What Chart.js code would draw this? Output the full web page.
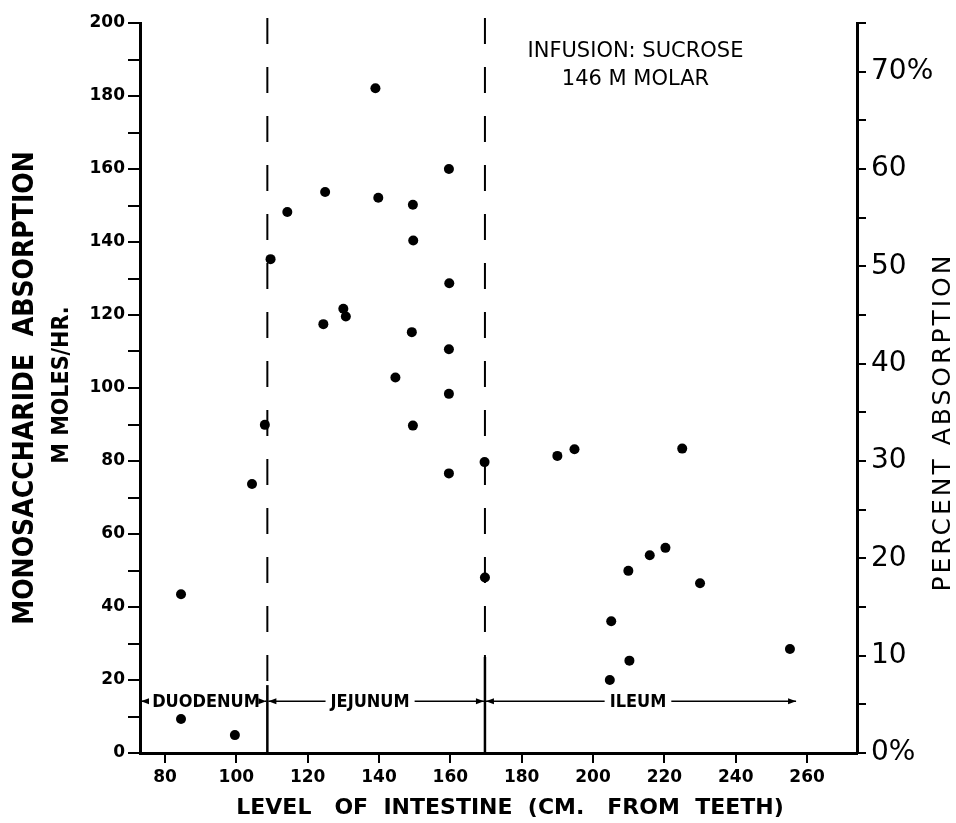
<!DOCTYPE html>
<html>
<head>
<meta charset="utf-8">
<script src="https://cdn.jsdelivr.net/npm/chart.js@4.4.1/dist/chart.umd.min.js"></script>
<style>
  html, body { margin: 0; padding: 0; background: #fff; }
  #wrap { width: 956px; height: 823px; }
</style>
</head>
<body>
<div id="wrap"><canvas id="chart" width="956" height="823"></canvas></div>
<script>
// level of intestine (cm. from teeth) and monosaccharide absorption (m moles/hr.)
const levels = [84.5, 84.5, 99.6, 104.4, 108.0, 109.6, 114.3, 124.9, 124.4, 130.0, 130.7, 139.0,
                139.8, 149.5, 149.6, 159.6, 159.7, 149.2, 159.6, 144.6, 159.6, 149.5, 169.6, 159.6,
                169.7, 190.0, 194.8, 225.0, 209.9, 215.9, 220.3, 230.0, 205.1, 210.2, 204.7, 255.2]
const absorption = [43.5, 9.3, 4.9, 73.7, 89.9, 135.3, 148.2, 153.7, 117.5, 121.7, 119.6, 182.1,
                    152.1, 150.2, 140.4, 160.0, 128.7, 115.3, 110.6, 102.9, 98.4, 89.7, 79.7, 76.6,
                    48.1, 81.4, 83.2, 83.4, 49.9, 54.2, 56.2, 46.5, 36.1, 25.3, 20.0, 28.5]

const xTicks = [80, 100, 120, 140, 160, 180, 200, 220, 240, 260]
const leftTicks = [0, 10, 20, 30, 40, 50, 60, 70, 80, 90, 100, 110, 120, 130, 140, 150, 160, 170, 180, 190, 200]
const rightTicks = [0, 5, 10, 15, 20, 25, 30, 35, 40, 45, 50, 55, 60, 65, 70, 75]

// intestine segments
const segments = ["DUODENUM", "JEJUNUM", "ILEUM"]
const segmentFrom = [73, 108.7, 169.7]
const segmentTo = [108.7, 169.7, 257.2]
const segmentCenter = [91.5, 137.5, 212.6]
const arrowLevel = 14.2
const boundaries = [108.7, 169.7]
const solidFrom = [18.6, 26.3]

const noteLines = ["INFUSION: SUCROSE", "146 M MOLAR"]
const noteX = 211.9
const noteY = [192.3, 184.4]

const sans = '"DejaVu Sans", sans-serif'
const condensed = '"DejaVu Sans Condensed", "DejaVu Sans", sans-serif'

function arrowHead(ctx, x, y, dir) {
    ctx.beginPath()
    ctx.moveTo(x, y)
    ctx.lineTo(x - dir * 8, y - 3)
    ctx.lineTo(x - dir * 8, y + 3)
    ctx.closePath()
    ctx.fill()
}

const annotations = {
    id: "annotations",
    afterDatasetsDraw(chart) {
        const { ctx, chartArea, scales: { x, y } } = chart
        ctx.save()
        ctx.strokeStyle = "#000"
        ctx.fillStyle = "#000"

        // dashed segment boundaries, solid near the bottom
        boundaries.forEach((b, i) => {
            const px = x.getPixelForValue(b)
            const ySolid = y.getPixelForValue(solidFrom[i])
            ctx.lineWidth = 2
            ctx.setLineDash([26, 23])
            ctx.beginPath()
            ctx.moveTo(px, chartArea.top - 5)
            ctx.lineTo(px, ySolid)
            ctx.stroke()
            ctx.setLineDash([])
            ctx.lineWidth = 2.5
            ctx.beginPath()
            ctx.moveTo(px, ySolid)
            ctx.lineTo(px, chartArea.bottom)
            ctx.stroke()
        })

        // segment names with arrows
        ctx.font = "bold 18px " + condensed
        ctx.textAlign = "center"
        ctx.textBaseline = "middle"
        const ay = y.getPixelForValue(arrowLevel)
        segments.forEach((name, i) => {
            const x0 = x.getPixelForValue(segmentFrom[i]) + 1
            const x1 = x.getPixelForValue(segmentTo[i]) - 1
            const cx = x.getPixelForValue(segmentCenter[i])
            const w = ctx.measureText(name).width
            ctx.fillText(name, cx, ay + 1)
            ctx.lineWidth = 1.5
            ctx.beginPath()
            ctx.moveTo(x0, ay)
            ctx.lineTo(cx - w / 2 - 5, ay)
            ctx.moveTo(cx + w / 2 + 5, ay)
            ctx.lineTo(x1, ay)
            ctx.stroke()
            arrowHead(ctx, x0, ay, -1)
            arrowHead(ctx, x1, ay, 1)
        })

        // infusion note
        ctx.font = "21px " + sans
        noteLines.forEach((line, i) => {
            ctx.fillText(line, x.getPixelForValue(noteX), y.getPixelForValue(noteY[i]))
        })

        const midY = (chartArea.top + chartArea.bottom) / 2

        // second line of the left title
        ctx.save()
        ctx.translate(chartArea.left - 78, midY - 3)
        ctx.rotate(-Math.PI / 2)
        ctx.font = "bold 23px " + condensed
        ctx.fillText("M MOLES/HR.", 0, 0)
        ctx.restore()

        // right title, reads bottom to top
        ctx.save()
        ctx.translate(chartArea.right + 86, midY + 34)
        ctx.rotate(-Math.PI / 2)
        ctx.font = "25px " + sans
        ctx.letterSpacing = "3px"
        ctx.fillText("PERCENT ABSORPTION", 0, 0)
        ctx.restore()

        ctx.restore()
    },
}

const axisBase = {
    border: { display: true, color: "#000", width: 3 },
    grid: { display: true, drawOnChartArea: false, drawTicks: true, color: "#000", lineWidth: 2 },
}

new Chart(document.getElementById("chart"), {
    type: "scatter",
    data: {
        datasets: [
            {
                data: levels.map((v, i) => ({ x: v, y: absorption[i] })),
                yAxisID: "y",
                pointRadius: 5,
                pointHoverRadius: 5,
                backgroundColor: "#000",
                borderWidth: 0,
            },
        ],
    },
    options: {
        responsive: false,
        animation: false,
        devicePixelRatio: 1,
        layout: { padding: { left: 0, right: 0, top: 23, bottom: 2 } },
        plugins: { legend: { display: false }, tooltip: { enabled: false } },
        scales: {
            x: {
                ...axisBase,
                type: "linear",
                min: 73,
                max: 274,
                grid: { ...axisBase.grid, tickLength: 10 },
                afterBuildTicks: (s) => {
                    s.ticks = xTicks.map((v) => ({ value: v }))
                },
                afterFit: (s) => {
                    s.height = 68
                },
                ticks: {
                    autoSkip: false,
                    maxRotation: 0,
                    padding: 4,
                    color: "#000",
                    font: { family: sans, weight: "bold", size: 17 },
                },
                title: {
                    display: true,
                    text: "   LEVEL   OF  INTESTINE  (CM.   FROM  TEETH)",
                    color: "#000",
                    font: { family: sans, weight: "bold", size: 22 },
                    padding: { top: 0, bottom: 0 },
                },
            },
            y: {
                ...axisBase,
                position: "left",
                min: 0,
                max: 200,
                grid: { ...axisBase.grid, tickLength: 12 },
                afterBuildTicks: (s) => {
                    s.ticks = leftTicks.map((v) => ({ value: v }))
                },
                afterFit: (s) => {
                    s.width = 140
                },
                ticks: {
                    autoSkip: false,
                    padding: 3,
                    color: "#000",
                    font: { family: sans, weight: "bold", size: 17 },
                    callback: (v) => (v % 20 === 0 ? String(v) : ""),
                },
                title: {
                    display: true,
                    text: "MONOSACCHARIDE  ABSORPTION",
                    color: "#000",
                    font: { family: condensed, weight: "bold", size: 28 },
                    padding: { top: 9, bottom: 0 },
                },
            },
            y2: {
                ...axisBase,
                position: "right",
                min: 0,
                max: 75,
                grid: { ...axisBase.grid, tickLength: 9 },
                afterBuildTicks: (s) => {
                    s.ticks = rightTicks.map((v) => ({ value: v }))
                },
                afterFit: (s) => {
                    s.width = 99
                },
                ticks: {
                    autoSkip: false,
                    padding: 5,
                    color: "#000",
                    font: { family: sans, size: 28 },
                    callback: (v) => (v % 10 !== 0 ? "" : v === 0 || v === 70 ? v + "%" : String(v)),
                },
            },
        },
    },
    plugins: [annotations],
})
</script>
</body>
</html>
